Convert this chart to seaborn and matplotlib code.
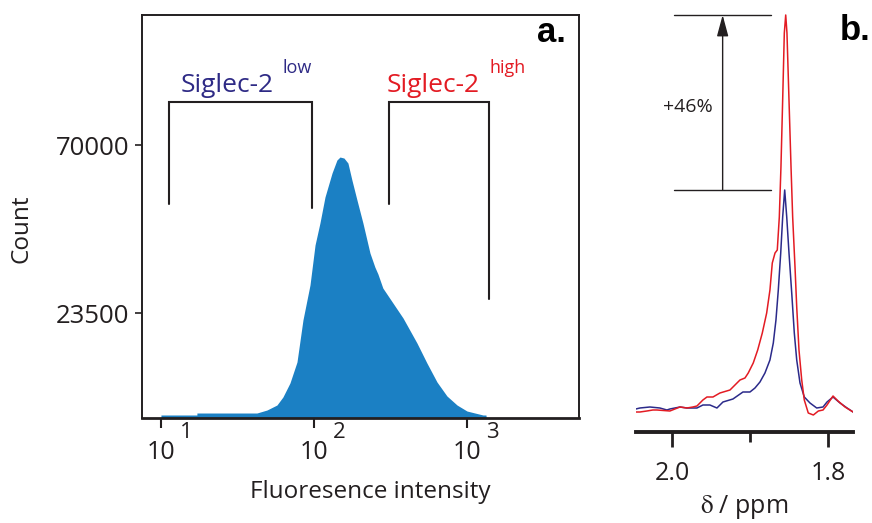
import numpy as np
import pandas as pd
import matplotlib
matplotlib.use("Agg")
import matplotlib.pyplot as plt
import seaborn as sns
from matplotlib.ticker import NullLocator, FixedLocator
from matplotlib.transforms import blended_transform_factory

# ---------------- Panel a: flow cytometry histogram ----------------
hist_log_intensity = [1.002, 1.237, 1.237, 1.629, 1.695, 1.760, 1.799, 1.845, 1.891,
                      1.930, 1.976, 2.009, 2.041, 2.074, 2.120, 2.152, 2.172, 2.198,
                      2.224, 2.250, 2.283, 2.322, 2.368, 2.400, 2.420, 2.452, 2.518,
                      2.584, 2.675, 2.740, 2.806, 2.871, 2.937, 3.002, 3.054, 3.107,
                      3.126, 3.128]
hist_count = [-4730, -4730, -4180, -4180, -3350, -1970, 250, 4120, 9940,
              21560, 31250, 42320, 48410, 55610, 62250, 65850, 66680, 66400,
              65020, 60310, 54780, 48410, 40110, 36230, 34300, 30420, 26270,
              22120, 15200, 9660, 4400, 530, -1970, -3630, -4180, -4730,
              -4730, -5560]
count_ticks = [23500, 70000]
count_tick_labels = ["23500", "70000"]
intensity_ticks = [10, 100, 1000]
intensity_tick_base = ["10", "10", "10"]
intensity_tick_exp = ["1", "2", "3"]
count_limits = [-5560, 106000]
intensity_limits = [7.52, 5420]

gate_low_x = [11.4, 98.2]
gate_low_y = [53670, 81900, 52560]     # left leg end, top, right leg end
gate_high_x = [310, 1400]
gate_high_y = [53670, 81900, 27380]

# ---------------- Panel b: 1H NMR spectra ----------------
ppm_red = [2.0462, 2.0410, 2.0321, 2.0244, 2.0192, 2.0026, 1.9897, 1.9808, 1.9731, 1.9679,
           1.9641, 1.9603, 1.9551, 1.9474, 1.9385, 1.9256, 1.9128, 1.9064, 1.9022, 1.8958,
           1.8901, 1.8842, 1.8786, 1.8744, 1.8714, 1.8679, 1.8650, 1.8624, 1.8603, 1.8581,
           1.8560, 1.8542, 1.8526, 1.8500, 1.8474, 1.8453, 1.8423, 1.8401, 1.8372, 1.8337,
           1.8304, 1.8253, 1.8188, 1.8124, 1.8064, 1.8013, 1.7936, 1.7872, 1.7782, 1.7679]
int_red = [20, 20, 21, 22, 22, 21, 25, 24, 25, 26,
           29, 32, 35, 35, 39, 42, 52, 54, 59, 69,
           82, 99, 119, 142, 169, 179, 182, 215, 265, 332,
           399, 417, 399, 332, 265, 215, 165, 125, 82, 52,
           32, 19, 17, 21, 22, 27, 36, 31, 25, 20]
ppm_blue = [2.0462, 2.0410, 2.0282, 2.0154, 2.0064, 2.0026, 1.9897, 1.9808, 1.9679, 1.9603,
            1.9513, 1.9423, 1.9346, 1.9218, 1.9090, 1.9000, 1.8936, 1.8872, 1.8808, 1.8744,
            1.8701, 1.8667, 1.8637, 1.8606, 1.8581, 1.8555, 1.8529, 1.8500, 1.8465, 1.8432,
            1.8401, 1.8359, 1.8304, 1.8231, 1.8145, 1.8064, 1.8013, 1.7936, 1.7846, 1.7756,
            1.7679]
int_blue = [23, 24, 25, 24, 22, 23, 25, 24, 24, 27,
            27, 24, 30, 33, 40, 40, 44, 50, 59, 72,
            89, 112, 142, 179, 215, 242, 215, 179, 139, 99,
            72, 49, 35, 29, 24, 25, 30, 35, 29, 24,
            20]
ppm_ticks = [2.0, 1.8]
ppm_tick_labels = ["2.0", "1.8"]
ppm_minor = [1.9]
ppm_limits = [2.046, 1.768]
int_limits = [0, 427]
increase_label = "+46%"
increase_ppm = [1.997, 1.873]   # reference line span
increase_arrow_ppm = 1.935

# ---------------- style ----------------
sns.set_style("ticks")
plt.rcParams['font.family'] = ['Open Sans', 'DejaVu Sans']
plt.rcParams['mathtext.fontset'] = 'stix'

COL_HIST = "#1b80c4"
COL_BLUE = "#2e2a85"
COL_RED = "#e31b23"
COL_INK = "#231f20"

fig = plt.figure(figsize=(8.72, 5.23), dpi=100)
axa = fig.add_axes([141.7 / 872, 1 - 418 / 523, (579 - 141.7) / 872, (418 - 15) / 523])
axb = fig.add_axes([636 / 872, 1 - 432 / 523, (853 - 636) / 872, 427 / 523])

# ---- panel a ----
df_a = pd.DataFrame({"intensity": 10 ** np.array(hist_log_intensity), "count": hist_count})
axa.set_xscale("log")
axa.fill_between(df_a["intensity"], df_a["count"], count_limits[0],
                 color=COL_HIST, lw=0)
axa.set_xlim(*intensity_limits)
axa.set_ylim(*count_limits)

for gx, gy in ((gate_low_x, gate_low_y), (gate_high_x, gate_high_y)):
    axa.plot([gx[0], gx[0], gx[1], gx[1]], [gy[0], gy[1], gy[1], gy[2]],
             color=COL_INK, lw=1.5, solid_joinstyle='miter')

axa.text(13.6, 84700, "Siglec-2", color=COL_BLUE, fontsize=19, va='baseline', ha='left')
axa.text(63.0, 90000, "low", color=COL_BLUE, fontsize=13, va='baseline', ha='left')
axa.text(300, 84700, "Siglec-2", color=COL_RED, fontsize=19, va='baseline', ha='left')
axa.text(1400, 90000, "high", color=COL_RED, fontsize=13, va='baseline', ha='left')

axa.set_yticks(count_ticks)
axa.set_yticklabels(count_tick_labels)
axa.xaxis.set_major_locator(FixedLocator(intensity_ticks))
axa.set_xticklabels(intensity_tick_base)
axa.xaxis.set_minor_locator(NullLocator())
axa.tick_params(axis='x', length=7, width=1.5, pad=9, labelsize=18, colors=COL_INK)
axa.tick_params(axis='y', length=5, width=1.2, pad=4, labelsize=18.5, colors=COL_INK)
trans = blended_transform_factory(axa.transData, axa.transAxes)
for t, e in zip(intensity_ticks, intensity_tick_exp):
    axa.annotate(e, xy=(t, 0), xycoords=trans, xytext=(14, -3), textcoords='offset points',
                 fontsize=16, ha='left', va='top', color=COL_INK)
for s in axa.spines.values():
    s.set_visible(True)
    s.set_linewidth(1.4)
    s.set_color(COL_INK)
axa.spines['bottom'].set_linewidth(2)
axa.set_xlabel("Fluoresence intensity", fontsize=17.5, color=COL_INK)
axa.set_ylabel("Count", fontsize=17.5, color=COL_INK)
axa.xaxis.set_label_coords(0.522, -0.155)
axa.yaxis.set_label_coords(-0.248, 0.47)
fig.text(566 / 872, 1 - 42 / 523, "a.", ha='right', va='baseline',
         fontsize=25, fontweight='bold', family='Liberation Sans', color='black')

# ---- panel b ----
df_red = pd.DataFrame({"ppm": ppm_red, "intensity": int_red})
df_blue = pd.DataFrame({"ppm": ppm_blue, "intensity": int_blue})
sns.lineplot(data=df_blue, x="ppm", y="intensity", color="#2b2a8a", lw=1.1, ax=axb)
sns.lineplot(data=df_red, x="ppm", y="intensity", color=COL_RED, lw=1.1, ax=axb)
axb.set_xlim(*ppm_limits)
axb.set_ylim(*int_limits)
peak_red = max(int_red)
peak_blue = max(int_blue)
axb.plot(increase_ppm, [peak_red, peak_red], color=COL_INK, lw=1.0)
axb.plot(increase_ppm, [peak_blue, peak_blue], color=COL_INK, lw=1.0)
axb.annotate("", xy=(increase_arrow_ppm, peak_red), xytext=(increase_arrow_ppm, peak_blue),
             arrowprops=dict(arrowstyle='-|>,head_length=1.3,head_width=0.35',
                             color=COL_INK, lw=1.0, shrinkA=0, shrinkB=0))
axb.text(1.979, (peak_red + peak_blue) / 2 - 5, increase_label, fontsize=14,
         ha='center', va='center', color=COL_INK)
axb.set_xticks(ppm_ticks)
axb.set_xticklabels(ppm_tick_labels)
axb.xaxis.set_minor_locator(FixedLocator(ppm_minor))
axb.tick_params(axis='x', which='major', length=11, width=2, pad=10, labelsize=18,
                colors=COL_INK)
axb.tick_params(axis='x', which='minor', length=7, width=2, colors=COL_INK)
axb.set_yticks([])
for k in ('left', 'right', 'top'):
    axb.spines[k].set_visible(False)
axb.spines['bottom'].set_linewidth(2.8)
axb.spines['bottom'].set_color(COL_INK)
axb.set_xlabel(r"$\mathrm{\delta}$ / ppm", fontsize=18, color=COL_INK, labelpad=5)
axb.set_ylabel("")
fig.text(871 / 872, 1 - 40 / 523, "b.", ha='right', va='baseline', fontsize=25,
         fontweight='bold', family='Liberation Sans', color='black')

fig.savefig("out.png", dpi=100)
